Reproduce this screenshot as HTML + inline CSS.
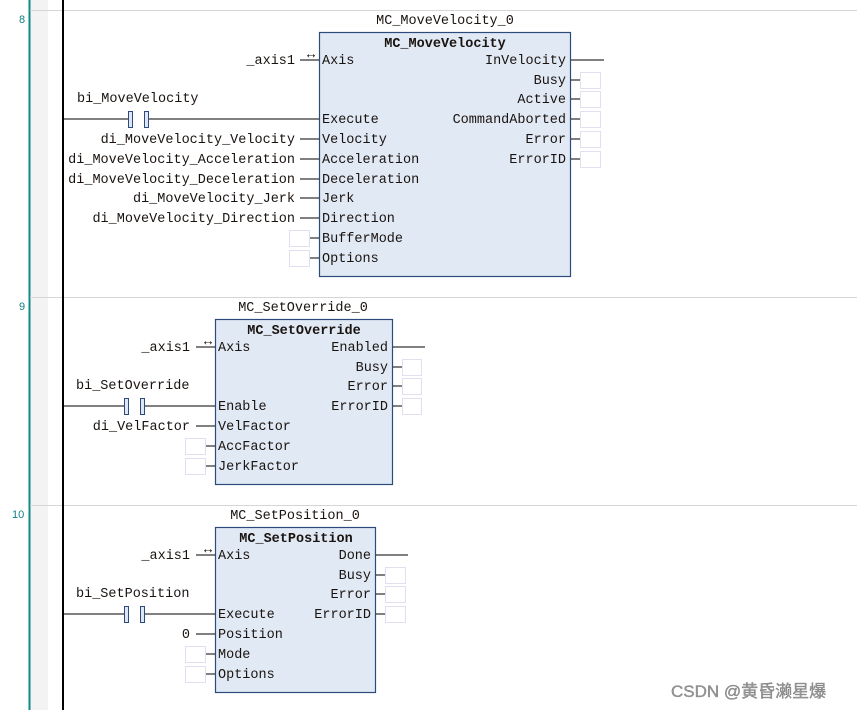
<!DOCTYPE html>
<html><head><meta charset="utf-8"><style>
html,body{margin:0;padding:0;background:#fff;}
svg{display:block;}
text{font-family:"Liberation Mono",monospace;font-size:13.5px;fill:#1a1410;}
.b{font-weight:bold;}
.n{font-family:"Liberation Sans",sans-serif;font-size:11px;fill:#0f7f86;}
</style></head><body>
<svg width="857" height="710" viewBox="0 0 857 710" xmlns="http://www.w3.org/2000/svg">
<rect x="30" y="0" width="18" height="710" fill="#f3f3f3"/>
<rect x="28.5" y="0" width="2" height="710" fill="#0e8a8a"/>
<g stroke="#d6d6d6" stroke-width="1">
<line x1="30" y1="10.5" x2="857" y2="10.5"/>
<line x1="30" y1="297.5" x2="857" y2="297.5"/>
<line x1="30" y1="505.5" x2="857" y2="505.5"/>
</g>
<text class="n" x="19" y="23">8</text>
<text class="n" x="19" y="310">9</text>
<text class="n" x="12" y="518">10</text>
<rect x="62" y="0" width="2" height="710" fill="#000"/>

<!-- Block 1 -->
<text x="445" y="24" text-anchor="middle">MC_MoveVelocity_0</text>
<rect x="319.5" y="32.5" width="251" height="244" fill="#e1e9f5" stroke="#2c4a7c" stroke-width="1.2"/>
<text class="b" x="445" y="47" text-anchor="middle">MC_MoveVelocity</text>
<g stroke="#000" stroke-width="1">
<line x1="300" y1="60" x2="319" y2="60"/>
<line x1="64" y1="119" x2="128" y2="119"/>
<line x1="148" y1="119" x2="319" y2="119"/>
<line x1="300" y1="139" x2="319" y2="139"/>
<line x1="300" y1="159" x2="319" y2="159"/>
<line x1="300" y1="179" x2="319" y2="179"/>
<line x1="300" y1="198" x2="319" y2="198"/>
<line x1="300" y1="218" x2="319" y2="218"/>
<line x1="310" y1="238" x2="319" y2="238"/>
<line x1="310" y1="258" x2="319" y2="258"/>
<line x1="571" y1="60" x2="604" y2="60"/>
<line x1="571" y1="80" x2="581" y2="80"/>
<line x1="571" y1="99" x2="581" y2="99"/>
<line x1="571" y1="119" x2="581" y2="119"/>
<line x1="571" y1="139" x2="581" y2="139"/>
<line x1="571" y1="159" x2="581" y2="159"/>
</g>
<rect x="128.5" y="111.5" width="4" height="16" fill="#dfe6f3" stroke="#2c4a7c"/>
<rect x="144.5" y="111.5" width="4" height="16" fill="#dfe6f3" stroke="#2c4a7c"/>
<g fill="#fff" stroke="#e0e0f0">
<rect x="289.5" y="230.5" width="20" height="16"/><rect x="289.5" y="250.5" width="20" height="16"/>
<rect x="580.5" y="72.5" width="20" height="16"/><rect x="580.5" y="91.5" width="20" height="16"/>
<rect x="580.5" y="111.5" width="20" height="16"/><rect x="580.5" y="131.5" width="20" height="16"/>
<rect x="580.5" y="151.5" width="20" height="16"/>
</g>
<text x="307" y="58" font-size="10">↔</text>
<text x="295" y="64" text-anchor="end">_axis1</text>
<text x="77" y="102">bi_MoveVelocity</text>
<text x="295" y="143" text-anchor="end">di_MoveVelocity_Velocity</text>
<text x="295" y="163" text-anchor="end">di_MoveVelocity_Acceleration</text>
<text x="295" y="183" text-anchor="end">di_MoveVelocity_Deceleration</text>
<text x="295" y="202" text-anchor="end">di_MoveVelocity_Jerk</text>
<text x="295" y="222" text-anchor="end">di_MoveVelocity_Direction</text>
<text x="322" y="64">Axis</text><text x="322" y="123">Execute</text><text x="322" y="143">Velocity</text>
<text x="322" y="163">Acceleration</text><text x="322" y="183">Deceleration</text><text x="322" y="202">Jerk</text>
<text x="322" y="222">Direction</text><text x="322" y="242">BufferMode</text><text x="322" y="262">Options</text>
<text x="566" y="64" text-anchor="end">InVelocity</text><text x="566" y="84" text-anchor="end">Busy</text>
<text x="566" y="103" text-anchor="end">Active</text><text x="566" y="123" text-anchor="end">CommandAborted</text>
<text x="566" y="143" text-anchor="end">Error</text><text x="566" y="163" text-anchor="end">ErrorID</text>

<!-- Block 2 -->
<text x="303" y="311" text-anchor="middle">MC_SetOverride_0</text>
<rect x="215.5" y="319.5" width="177" height="165" fill="#e1e9f5" stroke="#2c4a7c" stroke-width="1.2"/>
<text class="b" x="304" y="334" text-anchor="middle">MC_SetOverride</text>
<g stroke="#000" stroke-width="1">
<line x1="196" y1="347" x2="215" y2="347"/>
<line x1="64" y1="406" x2="124" y2="406"/>
<line x1="144" y1="406" x2="215" y2="406"/>
<line x1="196" y1="426" x2="215" y2="426"/>
<line x1="205" y1="446" x2="215" y2="446"/>
<line x1="205" y1="466" x2="215" y2="466"/>
<line x1="393" y1="347" x2="425" y2="347"/>
<line x1="393" y1="367" x2="403" y2="367"/>
<line x1="393" y1="386" x2="403" y2="386"/>
<line x1="393" y1="406" x2="403" y2="406"/>
</g>
<rect x="124.5" y="398.5" width="4" height="16" fill="#dfe6f3" stroke="#2c4a7c"/>
<rect x="140.5" y="398.5" width="4" height="16" fill="#dfe6f3" stroke="#2c4a7c"/>
<g fill="#fff" stroke="#e0e0f0">
<rect x="185.5" y="438.5" width="20" height="16"/><rect x="185.5" y="458.5" width="20" height="16"/>
<rect x="402.5" y="359.5" width="19" height="16"/><rect x="402.5" y="378.5" width="19" height="16"/>
<rect x="402.5" y="398.5" width="19" height="16"/>
</g>
<text x="204" y="345" font-size="10">↔</text>
<text x="190" y="351" text-anchor="end">_axis1</text>
<text x="76" y="389">bi_SetOverride</text>
<text x="190" y="430" text-anchor="end">di_VelFactor</text>
<text x="218" y="351">Axis</text><text x="218" y="410">Enable</text><text x="218" y="430">VelFactor</text>
<text x="218" y="450">AccFactor</text><text x="218" y="470">JerkFactor</text>
<text x="388" y="351" text-anchor="end">Enabled</text><text x="388" y="371" text-anchor="end">Busy</text>
<text x="388" y="390" text-anchor="end">Error</text><text x="388" y="410" text-anchor="end">ErrorID</text>

<!-- Block 3 -->
<text x="295" y="519" text-anchor="middle">MC_SetPosition_0</text>
<rect x="215.5" y="527.5" width="160" height="165" fill="#e1e9f5" stroke="#2c4a7c" stroke-width="1.2"/>
<text class="b" x="296" y="542" text-anchor="middle">MC_SetPosition</text>
<g stroke="#000" stroke-width="1">
<line x1="196" y1="555" x2="215" y2="555"/>
<line x1="64" y1="614" x2="124" y2="614"/>
<line x1="144" y1="614" x2="215" y2="614"/>
<line x1="196" y1="634" x2="215" y2="634"/>
<line x1="205" y1="654" x2="215" y2="654"/>
<line x1="205" y1="674" x2="215" y2="674"/>
<line x1="376" y1="555" x2="408" y2="555"/>
<line x1="376" y1="575" x2="386" y2="575"/>
<line x1="376" y1="594" x2="386" y2="594"/>
<line x1="376" y1="614" x2="386" y2="614"/>
</g>
<rect x="124.5" y="606.5" width="4" height="16" fill="#dfe6f3" stroke="#2c4a7c"/>
<rect x="140.5" y="606.5" width="4" height="16" fill="#dfe6f3" stroke="#2c4a7c"/>
<g fill="#fff" stroke="#e0e0f0">
<rect x="185.5" y="646.5" width="20" height="16"/><rect x="185.5" y="666.5" width="20" height="16"/>
<rect x="385.5" y="567.5" width="20" height="16"/><rect x="385.5" y="586.5" width="20" height="16"/>
<rect x="385.5" y="606.5" width="20" height="16"/>
</g>
<text x="204" y="553" font-size="10">↔</text>
<text x="190" y="559" text-anchor="end">_axis1</text>
<text x="76" y="597">bi_SetPosition</text>
<text x="190" y="638" text-anchor="end">0</text>
<text x="218" y="559">Axis</text><text x="218" y="618">Execute</text><text x="218" y="638">Position</text>
<text x="218" y="658">Mode</text><text x="218" y="678">Options</text>
<text x="371" y="559" text-anchor="end">Done</text><text x="371" y="579" text-anchor="end">Busy</text>
<text x="371" y="598" text-anchor="end">Error</text><text x="371" y="618" text-anchor="end">ErrorID</text>

<text x="671" y="697" style="font-family:'Liberation Sans','Noto Sans CJK SC',sans-serif;font-size:17px;fill:#9a9a9a;stroke:#666;stroke-width:0.3">CSDN @黄昏濑星爆</text>
</svg>
</body></html>
